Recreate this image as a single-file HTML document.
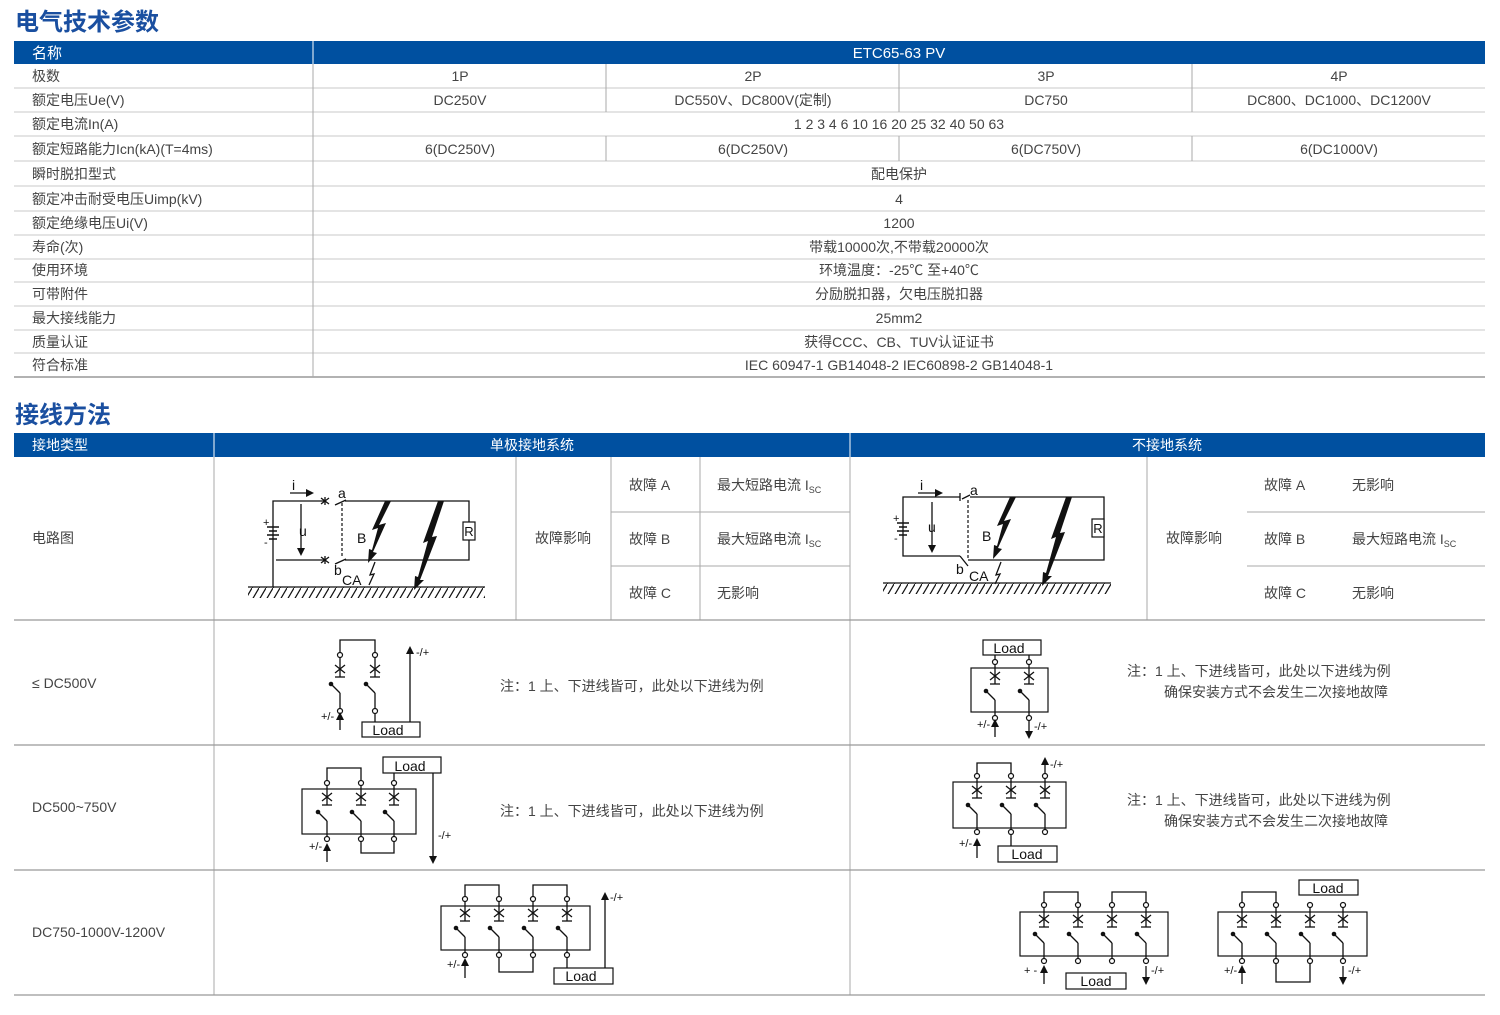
<!DOCTYPE html>
<html><head><meta charset="utf-8"><style>
html,body{margin:0;padding:0;background:#fff}
svg{display:block}
text{font-family:"Liberation Sans","Noto Sans CJK SC",sans-serif;fill:#444;font-size:14px}
.h{fill:#fff;font-size:15px}
.t{fill:#1a4fa0;font-size:24px;font-weight:bold}
.c{text-anchor:middle}
.s{font-size:11px;fill:#111}
.ld{font-size:14px;fill:#111}
.w{stroke:#111;stroke-width:1.3;fill:none}
</style></head><body>
<svg width="1500" height="1015" viewBox="0 0 1500 1015" xmlns="http://www.w3.org/2000/svg">
<defs>
<marker id="ar" markerWidth="8" markerHeight="8" refX="6" refY="4" orient="auto" markerUnits="userSpaceOnUse"><path d="M0,0 L8,4 L0,8 Z" fill="#111"/></marker>
<g id="pl">
 <line x1="0" y1="2.5" x2="0" y2="22" class="w"/>
 <line x1="-5" y1="10" x2="5" y2="18" class="w"/>
 <line x1="-5" y1="18" x2="5" y2="10" class="w"/>
 <line x1="-5" y1="22" x2="5" y2="22" class="w"/>
 <circle cx="-9" cy="29" r="2.3" fill="#111"/>
 <line x1="-9" y1="29" x2="0" y2="38" class="w"/>
 <line x1="0" y1="38" x2="0" y2="53.5" class="w"/>
 <circle cx="0" cy="0" r="2.5" fill="#fff" stroke="#111" stroke-width="1.2"/>
 <circle cx="0" cy="56" r="2.5" fill="#fff" stroke="#111" stroke-width="1.2"/>
</g>
<pattern id="hatch" width="7" height="12" patternUnits="userSpaceOnUse"><line x1="7" y1="0" x2="0" y2="12" stroke="#111" stroke-width="1.2"/></pattern>
</defs>

<!-- ===== Title 1 ===== -->
<text x="15" y="30" class="t">电气技术参数</text>
<rect x="14" y="41" width="1471" height="23" fill="#0050a0"/>
<line x1="313" y1="41" x2="313" y2="64" stroke="#fff" stroke-width="1"/>
<text x="32" y="58" class="h">名称</text>
<text x="899" y="58" class="h c">ETC65-63 PV</text>

<!-- row lines -->
<g stroke="#c8c8c8" stroke-width="1">
<line x1="14" y1="88" x2="1485" y2="88"/><line x1="14" y1="112" x2="1485" y2="112"/>
<line x1="14" y1="136" x2="1485" y2="136"/><line x1="14" y1="161" x2="1485" y2="161"/>
<line x1="14" y1="186" x2="1485" y2="186"/><line x1="14" y1="211" x2="1485" y2="211"/>
<line x1="14" y1="235" x2="1485" y2="235"/><line x1="14" y1="259" x2="1485" y2="259"/>
<line x1="14" y1="282" x2="1485" y2="282"/><line x1="14" y1="306" x2="1485" y2="306"/>
<line x1="14" y1="330" x2="1485" y2="330"/><line x1="14" y1="353" x2="1485" y2="353"/>
</g>
<line x1="14" y1="377" x2="1485" y2="377" stroke="#999" stroke-width="1.5"/>
<g stroke="#aaa" stroke-width="1">
<line x1="313" y1="64" x2="313" y2="377"/>
<line x1="606" y1="64" x2="606" y2="112"/><line x1="899" y1="64" x2="899" y2="112"/><line x1="1192" y1="64" x2="1192" y2="112"/>
<line x1="606" y1="136" x2="606" y2="161"/><line x1="899" y1="136" x2="899" y2="161"/><line x1="1192" y1="136" x2="1192" y2="161"/>
</g>
<g>
<text x="32" y="81">极数</text>
<text x="460" y="81" class="c">1P</text><text x="753" y="81" class="c">2P</text><text x="1046" y="81" class="c">3P</text><text x="1339" y="81" class="c">4P</text>
<text x="32" y="105">额定电压Ue(V)</text>
<text x="460" y="105" class="c">DC250V</text><text x="753" y="105" class="c">DC550V、DC800V(定制)</text><text x="1046" y="105" class="c">DC750</text><text x="1339" y="105" class="c">DC800、DC1000、DC1200V</text>
<text x="32" y="129">额定电流In(A)</text>
<text x="899" y="129" class="c">1 2 3 4 6 10 16 20 25 32 40 50 63</text>
<text x="32" y="154">额定短路能力Icn(kA)(T=4ms)</text>
<text x="460" y="154" class="c">6(DC250V)</text><text x="753" y="154" class="c">6(DC250V)</text><text x="1046" y="154" class="c">6(DC750V)</text><text x="1339" y="154" class="c">6(DC1000V)</text>
<text x="32" y="179">瞬时脱扣型式</text><text x="899" y="179" class="c">配电保护</text>
<text x="32" y="204">额定冲击耐受电压Uimp(kV)</text><text x="899" y="204" class="c">4</text>
<text x="32" y="228">额定绝缘电压Ui(V)</text><text x="899" y="228" class="c">1200</text>
<text x="32" y="252">寿命(次)</text><text x="899" y="252" class="c">带载10000次,不带载20000次</text>
<text x="32" y="275">使用环境</text><text x="899" y="275" class="c">环境温度：-25℃ 至+40℃</text>
<text x="32" y="299">可带附件</text><text x="899" y="299" class="c">分励脱扣器，欠电压脱扣器</text>
<text x="32" y="323">最大接线能力</text><text x="899" y="323" class="c">25mm2</text>
<text x="32" y="347">质量认证</text><text x="899" y="347" class="c">获得CCC、CB、TUV认证证书</text>
<text x="32" y="370">符合标准</text><text x="899" y="370" class="c">IEC 60947-1  GB14048-2  IEC60898-2  GB14048-1</text>
</g>

<!-- ===== Title 2 ===== -->
<text x="15" y="423" class="t">接线方法</text>
<rect x="14" y="433" width="1471" height="24" fill="#0050a0"/>
<line x1="214" y1="433" x2="214" y2="457" stroke="#fff"/><line x1="850" y1="433" x2="850" y2="457" stroke="#fff"/>
<text x="32" y="450" class="h" style="font-size:14px">接地类型</text>
<text x="532" y="450" class="h c" style="font-size:14px">单极接地系统</text>
<text x="1167" y="450" class="h c" style="font-size:14px">不接地系统</text>

<g stroke="#aaa" stroke-width="1">
<line x1="214" y1="457" x2="214" y2="995"/><line x1="850" y1="457" x2="850" y2="995"/>
<line x1="516" y1="457" x2="516" y2="620"/><line x1="611" y1="457" x2="611" y2="620"/><line x1="700" y1="457" x2="700" y2="620"/>
<line x1="1147" y1="457" x2="1147" y2="620"/>
<line x1="611" y1="512" x2="850" y2="512"/><line x1="611" y1="566" x2="850" y2="566"/>
<line x1="1247" y1="512" x2="1485" y2="512"/><line x1="1247" y1="566" x2="1485" y2="566"/>
</g>
<g stroke="#999" stroke-width="1.3">
<line x1="14" y1="620" x2="1485" y2="620"/><line x1="14" y1="745" x2="1485" y2="745"/>
<line x1="14" y1="870" x2="1485" y2="870"/><line x1="14" y1="995" x2="1485" y2="995"/>
</g>

<text x="32" y="543">电路图</text>
<text x="32" y="688">≤ DC500V</text>
<text x="32" y="812">DC500~750V</text>
<text x="32" y="937">DC750-1000V-1200V</text>

<text x="563" y="543" class="c">故障影响</text>
<text x="629" y="490">故障 A</text><text x="717" y="490">最大短路电流 I<tspan font-size="9" dy="3">SC</tspan></text>
<text x="629" y="544">故障 B</text><text x="717" y="544">最大短路电流 I<tspan font-size="9" dy="3">SC</tspan></text>
<text x="629" y="598">故障 C</text><text x="717" y="598">无影响</text>

<text x="1194" y="543" class="c">故障影响</text>
<text x="1264" y="490">故障 A</text><text x="1352" y="490">无影响</text>
<text x="1264" y="544">故障 B</text><text x="1352" y="544">最大短路电流 I<tspan font-size="9" dy="3">SC</tspan></text>
<text x="1264" y="598">故障 C</text><text x="1352" y="598">无影响</text>

<text x="500" y="691">注：1 上、下进线皆可，此处以下进线为例</text>
<text x="500" y="816">注：1 上、下进线皆可，此处以下进线为例</text>
<text x="1127" y="676">注：1 上、下进线皆可，此处以下进线为例</text>
<text x="1164" y="697">确保安装方式不会发生二次接地故障</text>
<text x="1127" y="805">注：1 上、下进线皆可，此处以下进线为例</text>
<text x="1164" y="826">确保安装方式不会发生二次接地故障</text>

<!-- ===== Circuit left ===== -->
<g id="circ">
<rect x="248" y="587" width="237" height="11" fill="url(#hatch)"/>
<line x1="248" y1="587" x2="485" y2="587" class="w"/>
<polyline points="325,501 273,501 273,587" class="w"/>
<polyline points="345,501 469,501 469,560 345,560" class="w"/>
<line x1="276" y1="560" x2="325" y2="560" class="w"/>
<line x1="325" y1="497" x2="325" y2="505" class="w"/><line x1="321" y1="498" x2="329" y2="504" class="w"/><line x1="321" y1="504" x2="329" y2="498" class="w"/>
<line x1="335" y1="505" x2="346" y2="500" class="w"/>
<line x1="325" y1="556" x2="325" y2="564" class="w"/><line x1="321" y1="557" x2="329" y2="563" class="w"/><line x1="321" y1="563" x2="329" y2="557" class="w"/>
<line x1="335" y1="564" x2="346" y2="559" class="w"/>
<line x1="342" y1="503" x2="342" y2="558" stroke="#111" stroke-width="1.2" stroke-dasharray="3,2"/>
<rect x="463" y="522" width="12" height="18" fill="#fff" stroke="#111" stroke-width="1.2"/>
<text x="469" y="536" class="c" style="font-size:13px;fill:#111">R</text>
<g stroke="#111" stroke-width="1.5"><line x1="267" y1="527" x2="279" y2="527"/><line x1="269" y1="531" x2="277" y2="531"/><line x1="267" y1="535" x2="279" y2="535"/><line x1="269" y1="539" x2="277" y2="539"/></g>
<text x="263" y="526" class="s">+</text><text x="264" y="546" class="s">-</text>
<text x="292" y="490" class="ld">i</text><line x1="290" y1="493" x2="312" y2="493" class="w" marker-end="url(#ar)"/>
<line x1="301" y1="504" x2="301" y2="554" class="w" marker-end="url(#ar)"/><text x="299" y="536" class="ld">u</text>
<text x="338" y="498" class="ld">a</text><text x="334" y="575" class="ld">b</text><text x="342" y="585" class="ld">CA</text>
<text x="357" y="543" class="ld">B</text>
<polygon points="385,501 391,501 379,525 386,523 373,552 377,553 368,563 369,549 372,550 378,528 372,530" fill="#111"/>
<polygon points="438,501 444,501 432,537 437,536 420,580 424,580 414,590 415,576 418,577 428,541 423,543" fill="#111"/>
<polyline points="375,562 370,575 374,574 369,585" class="w"/>
</g>
<!-- ===== Circuit right ===== -->
<g transform="translate(635,-4)">
<rect x="248" y="587" width="228" height="11" fill="url(#hatch)"/>
<line x1="248" y1="587" x2="476" y2="587" class="w"/>
<polyline points="325,501 268,501 268,560 325,560" class="w"/>
<polyline points="335,501 469,501 469,564 333,564" class="w"/>
<line x1="325" y1="497" x2="325" y2="505" class="w"/>
<line x1="327" y1="503" x2="335" y2="499" class="w"/>
<line x1="333" y1="504" x2="333" y2="564" stroke="#111" stroke-width="1.2" stroke-dasharray="3,2"/>
<line x1="325" y1="560" x2="333" y2="570" class="w"/>
<rect x="457" y="523" width="12" height="18" fill="#fff" stroke="#111" stroke-width="1.2"/>
<text x="463" y="537" class="c" style="font-size:13px;fill:#111">R</text>
<g stroke="#111" stroke-width="1.5"><line x1="262" y1="527" x2="274" y2="527"/><line x1="264" y1="531" x2="272" y2="531"/><line x1="262" y1="535" x2="274" y2="535"/><line x1="264" y1="539" x2="272" y2="539"/></g>
<text x="258" y="526" class="s">+</text><text x="259" y="546" class="s">-</text>
<text x="285" y="494" class="ld">i</text><line x1="283" y1="497" x2="306" y2="497" class="w" marker-end="url(#ar)"/>
<line x1="297" y1="506" x2="297" y2="555" class="w" marker-end="url(#ar)"/><text x="293" y="536" class="ld">u</text>
<text x="335" y="499" class="ld">a</text><text x="321" y="578" class="ld">b</text><text x="334" y="585" class="ld">CA</text>
<text x="347" y="545" class="ld">B</text>
<polygon points="375,501 381,501 369,525 376,523 363,552 367,553 358,563 359,549 362,550 368,528 362,530" fill="#111"/>
<polygon points="431,501 437,501 425,537 430,536 413,580 417,580 407,590 408,576 411,577 421,541 416,543" fill="#111"/>
<polyline points="366,566 361,579 365,578 360,588" class="w"/>
</g>

<!-- ===== <=DC500V left ===== -->
<polyline points="340,654 340,640 375,640 375,654" class="w"/>
<use href="#pl" x="340" y="655"/><use href="#pl" x="375" y="655"/>
<line x1="375" y1="713" x2="375" y2="722" class="w"/>
<rect x="362" y="722" width="58" height="15" fill="#fff" stroke="#111" stroke-width="1.2"/>
<text x="388" y="735" class="ld c">Load</text>
<line x1="410" y1="722" x2="410" y2="648" class="w" marker-end="url(#ar)"/>
<text x="416" y="656" class="s">-/+</text>
<line x1="340" y1="730" x2="340" y2="714" class="w" marker-end="url(#ar)"/>
<text x="321" y="720" class="s">+/-</text>

<!-- ===== <=DC500V right ===== -->
<rect x="983" y="640" width="58" height="15" fill="#fff" stroke="#111" stroke-width="1.2"/>
<text x="1009" y="653" class="ld c">Load</text>
<rect x="971" y="668" width="77" height="44" fill="none" stroke="#111" stroke-width="1.2"/>
<line x1="995" y1="655" x2="995" y2="661" class="w"/><line x1="1029" y1="655" x2="1029" y2="661" class="w"/>
<use href="#pl" x="995" y="662"/><use href="#pl" x="1029" y="662"/>
<line x1="995" y1="737" x2="995" y2="721" class="w" marker-end="url(#ar)"/><text x="977" y="728" class="s">+/-</text>
<line x1="1029" y1="721" x2="1029" y2="737" class="w" marker-end="url(#ar)"/><text x="1034" y="730" class="s">-/+</text>

<!-- ===== DC500-750 left ===== -->
<rect x="302" y="789" width="114" height="45" fill="none" stroke="#111" stroke-width="1.2"/>
<polyline points="327,781 327,768 361,768 361,781" class="w"/>
<use href="#pl" x="327" y="783"/><use href="#pl" x="361" y="783"/><use href="#pl" x="394" y="783"/>
<line x1="394" y1="773" x2="394" y2="780" class="w"/>
<polyline points="361,841 361,853 394,853 394,841" class="w"/>
<rect x="383" y="757" width="58" height="16" fill="#fff" stroke="#111" stroke-width="1.2"/>
<text x="410" y="771" class="ld c">Load</text>
<line x1="433" y1="773" x2="433" y2="862" class="w" marker-end="url(#ar)"/><text x="438" y="839" class="s">-/+</text>
<line x1="327" y1="862" x2="327" y2="845" class="w" marker-end="url(#ar)"/><text x="309" y="850" class="s">+/-</text>

<!-- ===== DC500-750 right ===== -->
<rect x="953" y="782" width="113" height="46" fill="none" stroke="#111" stroke-width="1.2"/>
<polyline points="977,774 977,763 1011,763 1011,774" class="w"/>
<use href="#pl" x="977" y="776"/><use href="#pl" x="1011" y="776"/><use href="#pl" x="1045" y="776"/>
<line x1="1045" y1="773" x2="1045" y2="759" class="w" marker-end="url(#ar)"/><text x="1050" y="768" class="s">-/+</text>
<line x1="1011" y1="835" x2="1011" y2="846" class="w"/>
<rect x="998" y="846" width="59" height="16" fill="#fff" stroke="#111" stroke-width="1.2"/>
<text x="1027" y="859" class="ld c">Load</text>
<line x1="977" y1="858" x2="977" y2="840" class="w" marker-end="url(#ar)"/><text x="959" y="847" class="s">+/-</text>

<!-- ===== DC750-1200 left ===== -->
<rect x="441" y="906" width="149" height="44" fill="none" stroke="#111" stroke-width="1.2"/>
<polyline points="465,897 465,885 499,885 499,897" class="w"/>
<polyline points="533,897 533,885 567,885 567,897" class="w"/>
<use href="#pl" x="465" y="899"/><use href="#pl" x="499" y="899"/><use href="#pl" x="533" y="899"/><use href="#pl" x="567" y="899"/>
<polyline points="499,957 499,972 533,972 533,957" class="w"/>
<line x1="567" y1="957" x2="567" y2="968" class="w"/>
<rect x="554" y="968" width="59" height="16" fill="#fff" stroke="#111" stroke-width="1.2"/>
<text x="581" y="981" class="ld c">Load</text>
<line x1="605" y1="968" x2="605" y2="894" class="w" marker-end="url(#ar)"/><text x="610" y="901" class="s">-/+</text>
<line x1="465" y1="978" x2="465" y2="960" class="w" marker-end="url(#ar)"/><text x="447" y="968" class="s">+/-</text>

<!-- ===== DC750-1200 right 1 ===== -->
<rect x="1020" y="912" width="148" height="44" fill="none" stroke="#111" stroke-width="1.2"/>
<polyline points="1044,903 1044,892 1078,892 1078,903" class="w"/>
<polyline points="1112,903 1112,892 1146,892 1146,903" class="w"/>
<use href="#pl" x="1044" y="905"/><use href="#pl" x="1078" y="905"/><use href="#pl" x="1112" y="905"/><use href="#pl" x="1146" y="905"/>
<rect x="1066" y="973" width="60" height="16" fill="#fff" stroke="#111" stroke-width="1.2"/>
<text x="1096" y="986" class="ld c">Load</text>
<line x1="1044" y1="984" x2="1044" y2="967" class="w" marker-end="url(#ar)"/><text x="1024" y="974" class="s">+ -</text>
<line x1="1146" y1="966" x2="1146" y2="983" class="w" marker-end="url(#ar)"/><text x="1151" y="974" class="s">-/+</text>

<!-- ===== DC750-1200 right 2 ===== -->
<rect x="1218" y="912" width="149" height="44" fill="none" stroke="#111" stroke-width="1.2"/>
<polyline points="1242,903 1242,892 1276,892 1276,903" class="w"/>
<use href="#pl" x="1242" y="905"/><use href="#pl" x="1276" y="905"/><use href="#pl" x="1310" y="905"/><use href="#pl" x="1343" y="905"/>
<polyline points="1276,963 1276,982 1310,982 1310,963" class="w"/>
<rect x="1299" y="880" width="59" height="15" fill="#fff" stroke="#111" stroke-width="1.2"/>
<text x="1328" y="893" class="ld c">Load</text>
<line x1="1242" y1="984" x2="1242" y2="967" class="w" marker-end="url(#ar)"/><text x="1224" y="974" class="s">+/-</text>
<line x1="1343" y1="966" x2="1343" y2="983" class="w" marker-end="url(#ar)"/><text x="1348" y="974" class="s">-/+</text>
</svg>
</body></html>
